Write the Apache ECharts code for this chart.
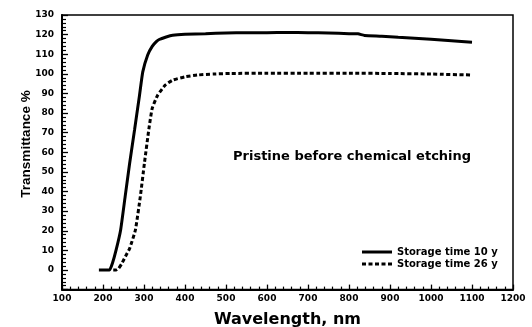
<!DOCTYPE html>
<html>
<head>
<meta charset="utf-8">
<script src="https://cdn.jsdelivr.net/npm/echarts@6/dist/echarts.min.js"></script>
<style>html,body{margin:0;padding:0;background:#fff;}#c{width:532px;height:327px;}</style>
</head>
<body>
<div id="c"></div>
<script>
var seriesNames = ['Storage time 10 y', 'Storage time 26 y'];
var wl10 = [190, 200, 210, 216, 223, 232, 243, 254, 265, 277, 289, 297, 309, 320, 330, 337, 354, 370, 400, 450, 500, 550, 600, 650, 700, 750, 800, 822, 838, 880, 920, 960, 1000, 1050, 1100];
var tr10 = [0, 0, 0, 0, 3.4, 10.2, 20.4, 37.4, 54.4, 71.5, 89, 101, 109.6, 114, 116.4, 117.5, 118.8, 119.7, 120.2, 120.5, 120.8, 121, 121, 121.1, 121, 120.8, 120.5, 120.4, 119.6, 119.2, 118.6, 118.1, 117.6, 116.9, 116.1];
var wl26 = [225, 232, 238, 245, 255, 265, 279, 291, 301, 312, 320, 333, 352, 370, 400, 430, 470, 510, 600, 700, 800, 900, 1000, 1100];
var tr26 = [0, 0, 0.8, 3, 7, 11, 20.4, 37.4, 54.4, 72, 82.4, 89, 94.3, 96.8, 98.5, 99.4, 99.9, 100.2, 100.3, 100.3, 100.3, 100.2, 99.9, 99.4];
var xTitle = 'Wavelength, nm';
var yTitle = 'Transmittance %';
var note = 'Pristine before chemical etching';

function pairs(xs, ys) { return xs.map(function (x, i) { return [x, ys[i]]; }); }

var chart = echarts.init(document.getElementById('c'));
var boldFont = 'DejaVu Sans';
var solidIcon = 'path://M0,0H30V3H0Z';
var dashIcon = 'path://M0,0H4V3H0Z M6.5,0H10.5V3H6.5Z M13,0H17V3H13Z M19.5,0H23.5V3H19.5Z M26,0H30V3H26Z';
chart.setOption({
  animation: false,
  backgroundColor: '#fff',
  grid: { left: 62, right: 19, top: 15, bottom: 37.4, containLabel: false, outerBoundsMode: 'none',
    show: true, borderColor: '#000', borderWidth: 1.5, backgroundColor: 'transparent' },
  xAxis: {
    type: 'value', min: 100, max: 1200, interval: 100,
    name: xTitle, nameLocation: 'middle', nameGap: 22,
    nameTextStyle: { fontFamily: boldFont, fontWeight: 'bold', fontSize: 16, color: '#000', verticalAlign: 'top' },
    axisLine: { show: true, onZero: false, lineStyle: { color: '#000', width: 2 } },
    axisTick: { show: true, inside: true, length: 5, lineStyle: { color: '#000', width: 1.3 } },
    minorTick: { show: true, splitNumber: 5, length: 3, lineStyle: { color: '#000', width: 1.2 } },
    axisLabel: { margin: 5, fontFamily: boldFont, fontWeight: 'bold', fontSize: 9, color: '#000',
      formatter: function (v) { return String(v); } },
    splitLine: { show: false }
  },
  yAxis: {
    type: 'value', min: -10, max: 130, interval: 10,
    axisLine: { show: true, onZero: false, lineStyle: { color: '#000', width: 2 } },
    axisTick: { show: true, inside: true, length: 6, lineStyle: { color: '#000', width: 1.3 } },
    minorTick: { show: true, splitNumber: 5, length: 4, lineStyle: { color: '#000', width: 1.2 } },
    axisLabel: { margin: 8, fontFamily: boldFont, fontWeight: 'bold', fontSize: 9, color: '#000',
      formatter: function (v) { return v < 0 ? '' : String(v); } },
    splitLine: { show: false }
  },
  legend: {
    orient: 'vertical', left: 357, top: 242, itemWidth: 30, itemHeight: 3, itemGap: 2,
    data: [ { name: seriesNames[0], icon: solidIcon }, { name: seriesNames[1], icon: dashIcon } ],
    itemStyle: { color: '#000' },
    textStyle: { fontFamily: boldFont, fontWeight: 'bold', fontSize: 10, color: '#000' }
  },
  graphic: [
    { type: 'text', left: 233, top: 150, style: { text: note, font: 'bold 13px "DejaVu Sans"', fill: '#000' } },
    { type: 'text', x: 26, y: 144, rotation: Math.PI / 2,
      style: { text: yTitle, font: 'bold 13.5px "Liberation Sans"', fill: '#000', align: 'center', verticalAlign: 'middle' } }
  ],
  series: [
    { name: seriesNames[0], type: 'line', data: pairs(wl10, tr10), symbol: 'none', smooth: 0.15,
      lineStyle: { color: '#000', width: 3 }, itemStyle: { color: '#000' } },
    { name: seriesNames[1], type: 'line', data: pairs(wl26, tr26), symbol: 'none', smooth: 0.15,
      lineStyle: { color: '#000', width: 3, type: [4, 2.5] }, itemStyle: { color: '#000' } }
  ]
});
</script>
</body>
</html>
